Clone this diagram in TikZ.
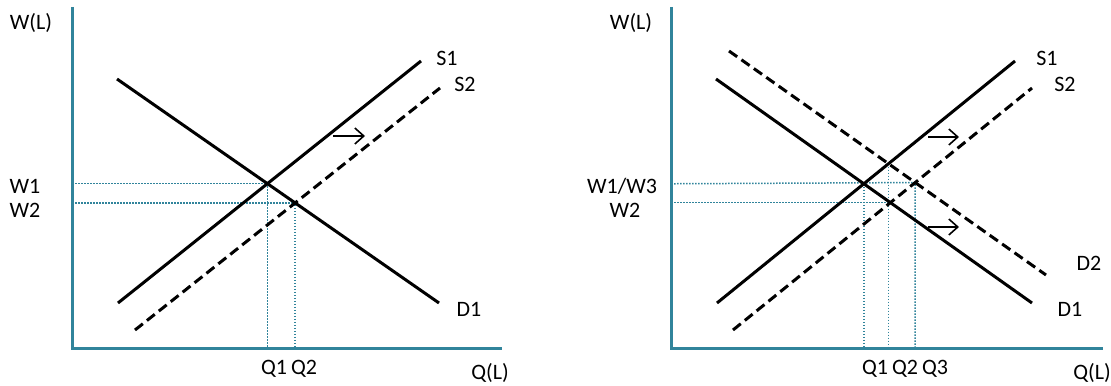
\documentclass[tikz,border=0pt]{standalone}
\usepackage{fontspec}
\setmainfont{Carlito}
\usetikzlibrary{arrows.meta,intersections}
\definecolor{axisteal}{RGB}{49,132,155}

\tikzset{
  axis/.style={draw=axisteal, line width=1.5pt, line join=miter},
  curve/.style={draw=black, line width=1.5pt},
  moved/.style={curve, dash pattern=on 5pt off 2.6pt},
  guide/.style={draw=axisteal, line width=0.75pt, dash pattern=on 0.75pt off 0.75pt},
  shiftarrow/.style={draw=black, line width=0.8pt, -{Straight Barb[length=4.5pt,width=8pt]}},
  lbl/.style={font=\fontsize{11}{13}\selectfont, inner sep=0pt}
}

\begin{document}
\begin{tikzpicture}[x=0.5pt, y=-0.5pt]
  \useasboundingbox (0,0) rectangle (1111,385);

  % left panel: supply shifts
  \coordinate (oA) at (72,348);
  \coordinate (yA) at (72,7);
  \coordinate (xA) at (502,348);
  \coordinate (d1A) at (117,79);  \coordinate (d1Aend) at (439,303);
  \coordinate (s1A) at (118,303); \coordinate (s1Aend) at (421,61);
  \coordinate (s2A) at (135,330); \coordinate (s2Aend) at (440,88);
  \path[name path=D1A] (d1A) -- (d1Aend);
  \path[name path=S1A] (s1A) -- (s1Aend);
  \path[name path=S2A] (s2A) -- (s2Aend);
  \path[name intersections={of=D1A and S1A, by=e1A}];
  \path[name intersections={of=D1A and S2A, by=e2A}];

  \draw[guide] (oA |- e1A) -- (e1A) -- (e1A |- oA);
  \draw[guide] (oA |- e2A) -- (e2A) -- (e2A |- oA);

  \draw[curve] (d1A) -- (d1Aend);
  \draw[curve] (s1A) -- (s1Aend);
  \draw[moved] (s2A) -- (s2Aend);
  \coordinate (aA) at (333,136); \coordinate (aAend) at (365,136);
  \draw[shiftarrow] (aA) -- (aAend);
  \draw[axis] (yA) -- (oA) -- (xA);

  \node[lbl] (wlA) at (31,23) {W(L)};
  \node[lbl] (qlA) at (490,373) {Q(L)};
  \node[lbl] (w1A) at (25,186) {W1};
  \node[lbl] (w2A) at (25,210) {W2};
  \node[lbl] (q1A) at (274,369) {Q1};
  \node[lbl] (q2A) at (304,369) {Q2};
  \node[lbl] (s1lA) at (447,58) {S1};
  \node[lbl] (s2lA) at (465,84) {S2};
  \node[lbl] (d1lA) at (469,309) {D1};

  % right panel: supply and demand shift
  \coordinate (oB) at (671,348);
  \coordinate (yB) at (671,7);
  \coordinate (xB) at (1103,348);
  \coordinate (d1B) at (716,79);  \coordinate (d1Bend) at (1032,303);
  \coordinate (d2B) at (729,51);  \coordinate (d2Bend) at (1046,275);
  \coordinate (s1B) at (717,303); \coordinate (s1Bend) at (1015,61);
  \coordinate (s2B) at (733,330); \coordinate (s2Bend) at (1032,88);
  \path[name path=D1B] (d1B) -- (d1Bend);
  \path[name path=D2B] (d2B) -- (d2Bend);
  \path[name path=S1B] (s1B) -- (s1Bend);
  \path[name path=S2B] (s2B) -- (s2Bend);
  \path[name intersections={of=D1B and S1B, by=e1B}];
  \path[name intersections={of=D1B and S2B, by=e2B}];
  \path[name intersections={of=D2B and S2B, by=e3B}];
  \path[name intersections={of=D2B and S1B, by=e4B}];

  \draw[guide] (oB |- e1B) -- (e3B) -- (e3B |- oB);
  \draw[guide] (e1B) -- (e1B |- oB);
  \draw[guide] (oB |- e2B) -- (e2B);
  \draw[guide] (e4B) -- (e4B |- oB);

  \draw[curve] (d1B) -- (d1Bend);
  \draw[moved] (d2B) -- (d2Bend);
  \draw[curve] (s1B) -- (s1Bend);
  \draw[moved] (s2B) -- (s2Bend);
  \coordinate (aB) at (928,137); \coordinate (aBend) at (959,137);
  \coordinate (bB) at (928,227); \coordinate (bBend) at (959,227);
  \draw[shiftarrow] (aB) -- (aBend);
  \draw[shiftarrow] (bB) -- (bBend);
  \draw[axis] (yB) -- (oB) -- (xB);

  \node[lbl] (wlB) at (631,23) {W(L)};
  \node[lbl] (qlB) at (1092,373) {Q(L)};
  \node[lbl] (w1B) at (622,186) {W1/W3};
  \node[lbl] (w2B) at (625,210) {W2};
  \node[lbl] (q1B) at (875,369) {Q1};
  \node[lbl] (q2B) at (905,369) {Q2};
  \node[lbl] (q3B) at (935,369) {Q3};
  \node[lbl] (s1lB) at (1047,58) {S1};
  \node[lbl] (s2lB) at (1065,84) {S2};
  \node[lbl] (d2lB) at (1089,263) {D2};
  \node[lbl] (d1lB) at (1070,309) {D1};
\end{tikzpicture}
\end{document}
